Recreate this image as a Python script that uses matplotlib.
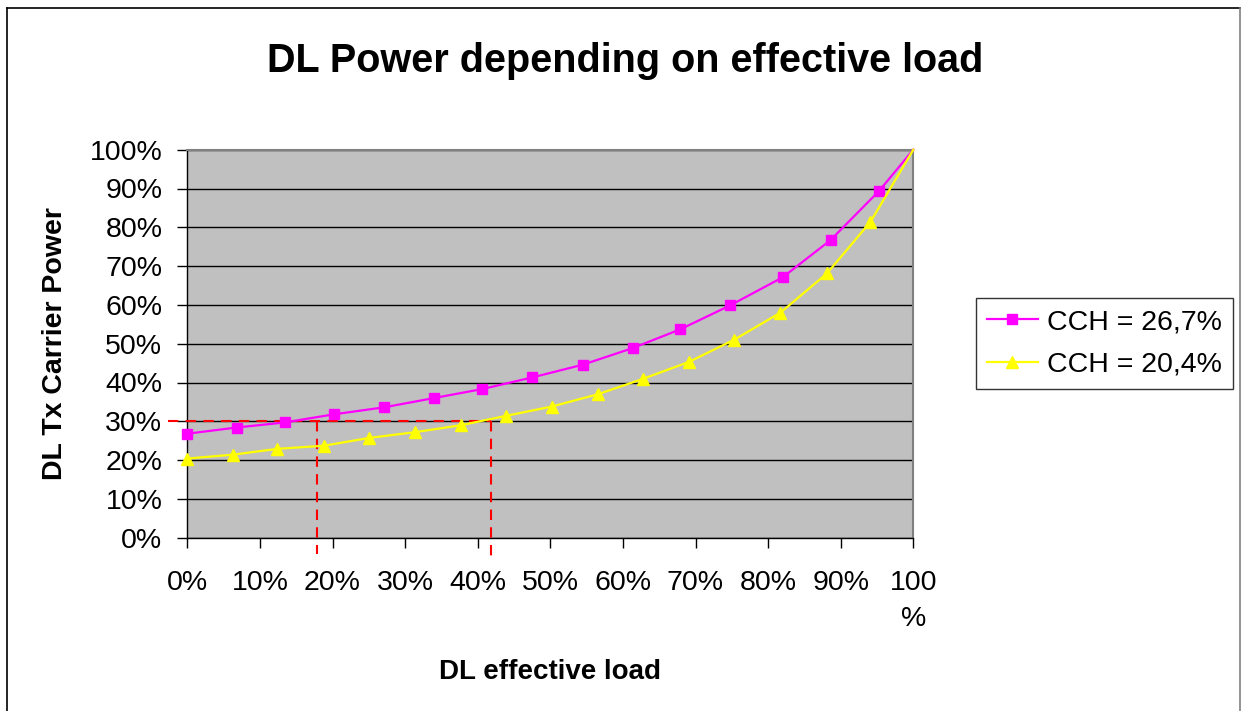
import matplotlib
matplotlib.use("Agg")
import matplotlib.pyplot as plt
from matplotlib.lines import Line2D

plt.rcParams['font.family'] = ['Liberation Sans', 'DejaVu Sans']

# DL effective load (%) / DL Tx carrier power (%)
load_267 = [0, 6.8, 13.4, 20.2, 27.1, 34.0, 40.6, 47.5, 54.5, 61.4, 67.9, 74.8, 82.0, 88.6, 95.3, 100]
power_267 = [26.8, 28.4, 29.7, 31.8, 33.6, 36.0, 38.3, 41.3, 44.6, 48.9, 53.7, 59.9, 67.1, 76.7, 89.4, 100]

load_204 = [0, 6.3, 12.4, 18.8, 25.0, 31.4, 37.7, 43.9, 50.2, 56.6, 62.7, 69.1, 75.3, 81.7, 88.1, 94.1, 100]
power_204 = [20.4, 21.4, 22.9, 23.7, 25.7, 27.2, 29.0, 31.4, 33.8, 37.0, 40.9, 45.3, 51.0, 58.0, 68.1, 81.4, 100]

series_labels = ['CCH = 26,7%', 'CCH = 20,4%']

# red helper lines: 30 % power level and the two loads where it is reached
power_level = 30
load_a = 17.8
load_b = 41.9

ticks = list(range(0, 101, 10))
x_ticklabels = [f'{t}%' for t in ticks[:-1]] + ['100\n%']
y_ticklabels = [f'{t}%' for t in ticks]

W, H = 1241, 711
fig = plt.figure(figsize=(W / 100, H / 100), dpi=100)
ax = fig.add_axes([187.3 / W, 1 - 537.7 / H, 726 / W, 388 / H])
ax.set_facecolor('#C0C0C0')

ax.plot(load_267, power_267, color='#FF00FF', lw=1.6, marker='s', ms=7.4,
        markevery=slice(0, -1), label=series_labels[0], clip_on=False, zorder=4)
ax.plot(load_204, power_204, color='#FFFF00', lw=1.6, marker='^', ms=9.2,
        markevery=slice(0, -1), label=series_labels[1], clip_on=False, zorder=4)

dash = dict(color='red', lw=1.5, dashes=(5, 3.5), clip_on=False, zorder=3)
ax.plot([-2.7, load_b], [power_level, power_level], **dash)
ax.plot([load_a, load_a], [power_level, -4.3], **dash)
ax.plot([load_b, load_b], [power_level, -5.6], **dash)

ax.set_xlim(0, 100)
ax.set_ylim(0, 100)
ax.set_xticks(ticks)
ax.set_xticklabels(x_ticklabels, linespacing=1.5)
ax.set_yticks(ticks)
ax.set_yticklabels(y_ticklabels)
ax.tick_params(axis='both', labelsize=20.5, length=7, width=1, color='black')
ax.tick_params(axis='x', pad=16)
ax.tick_params(axis='y', pad=11)

ax.yaxis.grid(True, color='black', lw=1)
ax.set_axisbelow(True)
for s in ['left', 'bottom']:
    ax.spines[s].set_color('black')
    ax.spines[s].set_linewidth(1)
for s in ['top', 'right']:
    ax.spines[s].set_color('#808080')
    ax.spines[s].set_linewidth(1.5)

fig.text(625 / W, 1 - 71.7 / H, 'DL Power depending on effective load',
         fontsize=28.5, fontweight='bold', ha='center', va='baseline')
fig.text(550.3 / W, 1 - 679.3 / H, 'DL effective load',
         fontsize=20, fontweight='bold', ha='center', va='baseline')
fig.text(55 / W, 1 - 343.7 / H, 'DL Tx Carrier Power',
         fontsize=20.5, fontweight='bold', ha='center', va='center', rotation=90)

leg = fig.legend(loc='center left', bbox_to_anchor=(976 / W, 1 - 343.5 / H),
                 bbox_transform=fig.transFigure, fontsize=20.5, frameon=True,
                 fancybox=False, edgecolor='black', borderpad=0.4,
                 handlelength=1.76, handletextpad=0.32, labelspacing=0.58,
                 borderaxespad=0)
leg.get_frame().set_linewidth(1)

# outer chart border
fig.add_artist(Line2D([7 / W, 1239.5 / W], [1 - 8 / H, 1 - 8 / H], color='black', lw=1.2))
fig.add_artist(Line2D([7 / W, 7 / W], [0, 1 - 8 / H], color='black', lw=1.2))
fig.add_artist(Line2D([1239.5 / W, 1239.5 / W], [0, 1 - 8 / H], color='#808080', lw=1.2))

fig.savefig('out.png', dpi=100)
